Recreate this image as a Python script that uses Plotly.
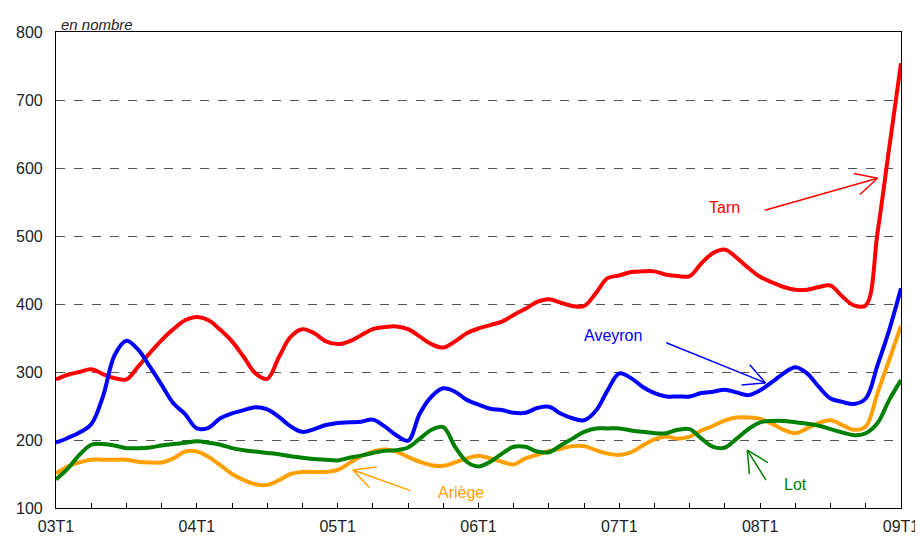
import math
import plotly.graph_objects as go

# months since 2003 T1 (monthly data, 03T1 .. 09T1)
months = list(range(73))

tarn = [289, 296, 300, 304, 297, 291, 289, 308, 328, 347, 363, 376,
        381, 376, 362, 345, 322, 298, 290, 322, 352, 363, 357, 345,
        341, 345, 354, 363, 366, 367, 363, 352, 341, 336, 345, 357,
        364, 369, 374, 384, 393, 403, 407, 402, 397, 397, 416, 438,
        442, 447, 448, 448, 443, 441, 441, 460, 475, 480, 468, 453,
        440, 432, 425, 421, 421, 425, 427, 411, 398, 398, 505, 630, 754]

aveyron = [196, 203, 211, 223, 264, 325, 346, 333, 308, 281, 254, 238,
           217, 218, 232, 239, 244, 248, 245, 234, 220, 212, 216, 222,
           225, 226, 227, 230, 220, 207, 199, 239, 264, 276, 271, 259,
           252, 246, 244, 240, 240, 247, 249, 239, 232, 229, 243, 273,
           298, 291, 278, 269, 264, 264, 264, 269, 271, 274, 270, 266,
           273, 285, 298, 307, 298, 278, 261, 256, 253, 261, 310, 362, 423]

lot = [142, 158, 178, 193, 194, 192, 188, 188, 189, 192, 194, 196,
       198, 196, 193, 188, 185, 183, 181, 179, 176, 174, 172, 171,
       170, 174, 177, 181, 184, 185, 189, 202, 215, 219, 190, 168,
       161, 168, 180, 190, 190, 183, 182, 192, 202, 212, 217, 217,
       217, 214, 212, 210, 210, 215, 216, 202, 190, 189, 202, 216,
       226, 228, 228, 226, 224, 221, 216, 211, 207, 210, 225, 259, 288]

ariege = [151, 161, 167, 171, 171, 171, 171, 168, 167, 167, 173, 183,
          183, 175, 163, 150, 141, 135, 134, 141, 150, 153, 153, 153,
          156, 166, 176, 183, 186, 183, 175, 168, 163, 162, 167, 173,
          177, 173, 168, 164, 173, 178, 184, 187, 191, 191, 185, 180,
          178, 182, 192, 201, 205, 202, 205, 214, 221, 229, 233, 233,
          231, 224, 215, 210, 217, 225, 229, 222, 215, 220, 269, 318, 368]

tick_months = list(range(0, 73, 3))
year_labels = ["03T1", "04T1", "05T1", "06T1", "07T1", "08T1", "09T1"]
tick_text = [year_labels[m // 12] if m % 12 == 0 else "" for m in tick_months]
y_ticks = [100, 200, 300, 400, 500, 600, 700, 800]

series = [
    ("Tarn", tarn, "#FF0000"),
    ("Aveyron", aveyron, "#0000FF"),
    ("Ariège", ariege, "#FFA000"),
    ("Lot", lot, "#008000"),
]

FONT = "Liberation Sans, Arial, sans-serif"

# page body has an 8px margin: shrink figure and margins accordingly
W, H = 915, 530
ML, MR, MT, MB = 48, 22, 24, 30
X_RANGE = [0, 72]
Y_RANGE = [100, 800]
kx = (W - ML - MR) / (X_RANGE[1] - X_RANGE[0])   # px per month
ky = (H - MT - MB) / (Y_RANGE[1] - Y_RANGE[0])   # px per unit

fig = go.Figure()
for name, vals, col in series:
    fig.add_trace(go.Scatter(
        x=months, y=vals, mode="lines", name=name,
        line=dict(color=col, width=4, shape="spline", smoothing=1.0),
        hoverinfo="skip", showlegend=False,
    ))

# label annotations: (text, colour, text pos, arrow tail, arrow tip) in data coords
labels = [
    ("Tarn", "#FF0000", (57.0, 542), (60.4, 538), (70.0, 585)),
    ("Aveyron", "#0000FF", (47.5, 354), (52.0, 343), (60.45, 284)),
    ("Lot", "#008000", (63.0, 134), (60.5, 141), (58.9, 185)),
    ("Ariège", "#FFA000", (34.5, 123), (30.2, 125.5), (25.3, 156)),
]
BARB = 24      # px
ANG = math.radians(27)
for text, col, tpos, tail, tip in labels:
    fig.add_annotation(x=tpos[0], y=tpos[1], text=text, showarrow=False,
                       font=dict(family=FONT, size=16, color=col))
    line = dict(color=col, width=1.5)
    fig.add_shape(type="line", xref="x", yref="y", x0=tail[0], y0=tail[1],
                  x1=tip[0], y1=tip[1], line=line)
    # open V arrowhead: two barbs from the tip back toward the tail
    dxp = (tail[0] - tip[0]) * kx
    dyp = (tail[1] - tip[1]) * ky
    base = math.atan2(dyp, dxp)
    for s in (-1, 1):
        a = base + s * ANG
        fig.add_shape(type="line", xref="x", yref="y",
                      x0=tip[0], y0=tip[1],
                      x1=tip[0] + BARB * math.cos(a) / kx,
                      y1=tip[1] + BARB * math.sin(a) / ky, line=line)

fig.add_annotation(xref="paper", yref="paper", x=0.004, y=1, xanchor="left",
                   yanchor="bottom", text="<i>en nombre</i>", showarrow=False,
                   font=dict(family=FONT, size=15, color="#222"), yshift=-3)

fig.update_layout(
    width=W, height=H,
    margin=dict(l=ML, r=MR, t=MT, b=MB, autoexpand=False),
    paper_bgcolor="white", plot_bgcolor="white",
    font=dict(family=FONT, size=16, color="#222"),
    xaxis=dict(range=X_RANGE, tickmode="array", tickvals=tick_months,
               ticktext=tick_text, ticks="inside", ticklen=5, tickcolor="black",
               showline=True, linecolor="black", linewidth=1.2, mirror=True,
               showgrid=False, zeroline=False, tickfont=dict(size=16),
               ticklabelstandoff=4, automargin=False),
    yaxis=dict(range=Y_RANGE, tickmode="array", tickvals=y_ticks,
               showline=True, linecolor="black", linewidth=1.2, mirror=True,
               showgrid=True, gridcolor="#555555", griddash="dash", gridwidth=1,
               zeroline=False, ticks="", tickfont=dict(size=16),
               ticklabelstandoff=9, automargin=False),
)

fig.write_html("out.html")
